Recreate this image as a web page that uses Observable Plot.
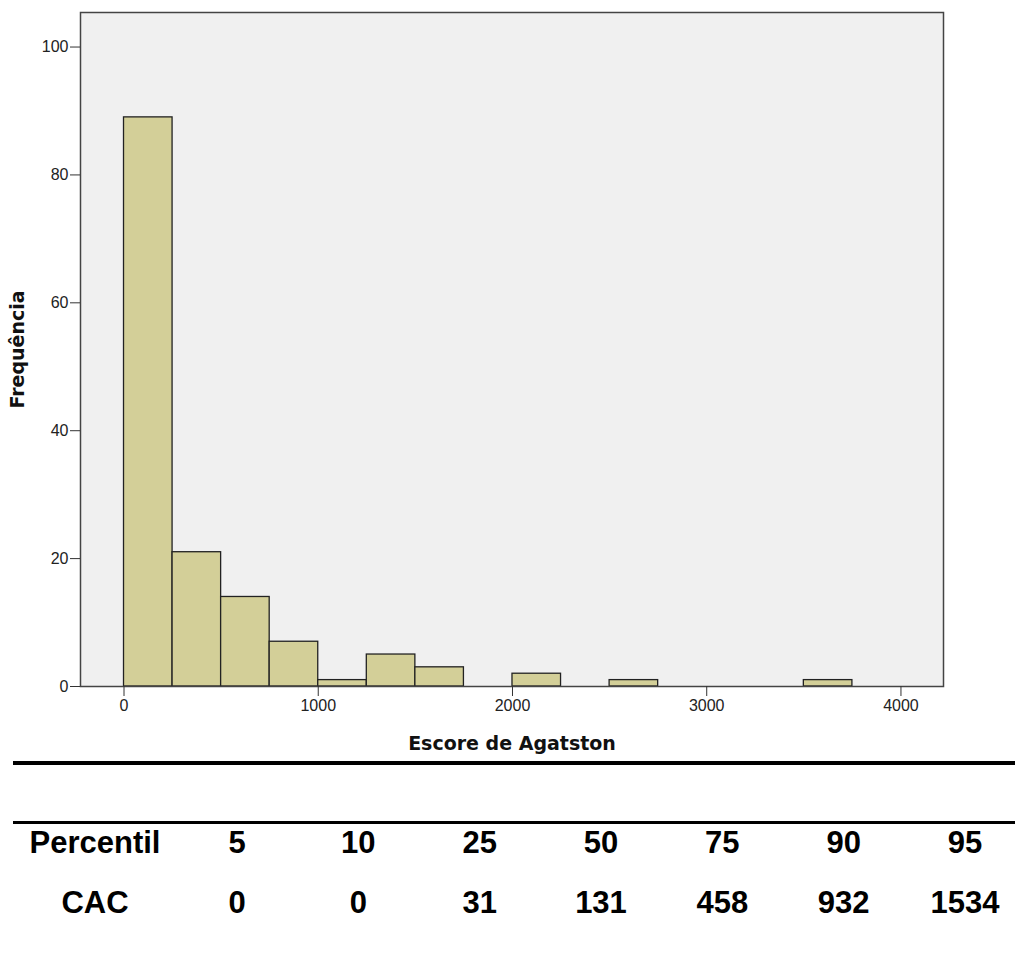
<!DOCTYPE html>
<html><head><meta charset="utf-8">
<script src="https://cdn.jsdelivr.net/npm/d3@7"></script>
<script src="https://cdn.jsdelivr.net/npm/@observablehq/plot@0.6"></script>
<style>
body{margin:0;background:#fff;overflow:hidden;width:1015px;height:953px;position:relative;font-family:"Liberation Sans",Arial,sans-serif}
#chart{position:absolute;left:0;top:0}
.rule{position:absolute;left:13px;width:1002px;background:#000}
.cell{position:absolute;width:140px;text-align:center;font-weight:bold;font-size:31px;line-height:30px;color:#000;white-space:nowrap}
</style></head><body>
<div id="chart"></div>
<div class="rule" style="top:761px;height:4px"></div>
<div class="rule" style="top:821px;height:3px"></div>
<div id="table"></div>
<script>
// Histogram data (Escore de Agatston, bins of 250)
const binStart = [0, 250, 500, 750, 1000, 1250, 1500, 2000, 2500, 3500];
const binEnd   = [250, 500, 750, 1000, 1250, 1500, 1750, 2250, 2750, 3750];
const counts   = [89, 21, 14, 7, 1, 5, 3, 2, 1, 1];
const xTicks = [0, 1000, 2000, 3000, 4000];
const yTicks = [0, 20, 40, 60, 80, 100];
// Percentile table
const rowLabels = ["Percentil", "CAC"];
const percentiles = ["5", "10", "25", "50", "75", "90", "95"];
const cacValues = ["0", "0", "31", "131", "458", "932", "1534"];

const bins = binStart.map((s, i) => ({x1: s, x2: binEnd[i], y: counts[i]}));

const plot = Plot.plot({
  width: 1015, height: 770,
  marginTop: 12, marginRight: 72, marginBottom: 84, marginLeft: 80,
  style: {fontFamily: "Liberation Sans, Arial, sans-serif", fontSize: "16px", background: "transparent", color: "#222"},
  x: {domain: [-224, 4219]},
  y: {domain: [0, 105.4]},
  marks: [
    Plot.frame({fill: "#f0f0f0", stroke: null}),
    Plot.rectY(bins, {x1: "x1", x2: "x2", y: "y", fill: "#d3cf98", stroke: "#222", strokeWidth: 1.3}),
    Plot.frame({stroke: "#444", strokeWidth: 1.5}),
    Plot.axisX(xTicks, {tickSize: 10, tickPadding: 3, tickFormat: "d", stroke: "#333", fontSize: 16,
      label: "Escore de Agatston", labelArrow: "none", labelAnchor: "center", labelOffset: 63}),
    Plot.axisY(yTicks, {tickSize: 10, tickPadding: 2, tickFormat: "d", stroke: "#333", fontSize: 16,
      label: "Frequência", labelArrow: "none", labelAnchor: "center", labelOffset: 70})
  ]
});
document.getElementById("chart").append(plot);
plot.querySelectorAll('[aria-label="x-axis label"], [aria-label="y-axis label"]').forEach(el => {
  el.setAttribute("font-weight", "bold");
  el.setAttribute("font-size", "19px");
  el.setAttribute("font-family", "DejaVu Sans");
  el.setAttribute("fill", "#111");
  el.querySelectorAll("text, tspan").forEach(t => {
    if (t.childNodes.length === 1 && t.firstChild.nodeType === 3)
      t.textContent = t.textContent.replace(/[↑→↓←]/g, "").trim();
  });
});

// table cells
const table = document.getElementById("table");
const colCenters0 = 95; // label column center
function addCell(text, cx, top) {
  const d = document.createElement("div");
  d.className = "cell";
  d.textContent = text;
  d.style.left = (cx - 70) + "px";
  d.style.top = top + "px";
  table.append(d);
}
const colX = d3.scaleLinear().domain([0, percentiles.length - 1]).range([237, 965]);
addCell(rowLabels[0], colCenters0, 828);
addCell(rowLabels[1], colCenters0, 888);
percentiles.forEach((p, i) => addCell(p, colX(i), 828));
cacValues.forEach((v, i) => addCell(v, colX(i), 888));
</script>
</body></html>
